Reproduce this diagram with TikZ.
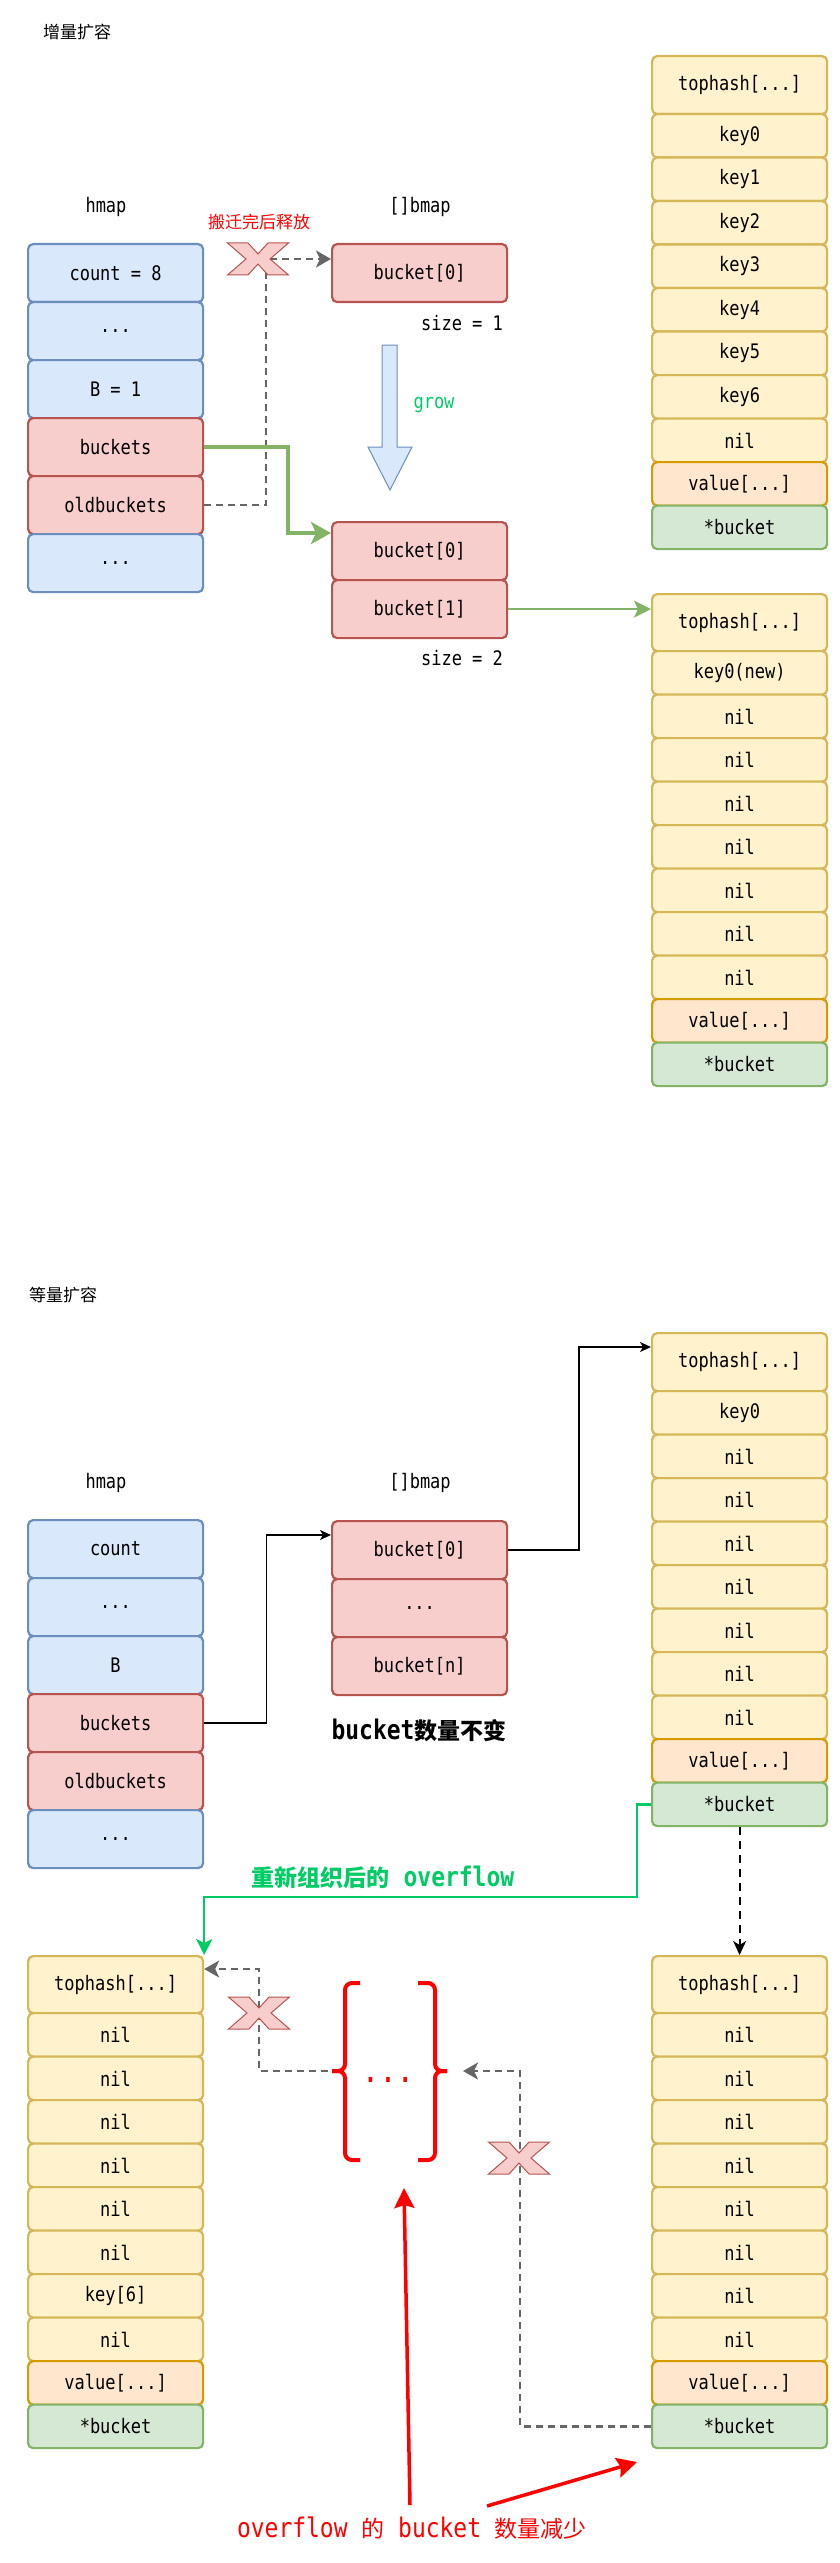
\documentclass[tikz,border=0pt]{standalone}
\usepackage{fontspec}
\setmonofont{DejaVu Sans Mono}[FakeStretch=0.85]
\newfontfamily\cjk{Noto Sans CJK SC}
\usetikzlibrary{arrows.meta,calc}
\definecolor{bfill}{HTML}{DAE8FC}\definecolor{bdraw}{HTML}{6C8EBF}
\definecolor{rfill}{HTML}{F8CECC}\definecolor{rdraw}{HTML}{B85450}
\definecolor{yfill}{HTML}{FFF2CC}\definecolor{ydraw}{HTML}{D6B656}
\definecolor{ofill}{HTML}{FFE6CC}\definecolor{odraw}{HTML}{D79B00}
\definecolor{gfill}{HTML}{D5E8D4}\definecolor{gdraw}{HTML}{82B366}
\definecolor{brightgreen}{HTML}{00CC66}
\definecolor{dgray}{HTML}{666666}
\newcommand\bigcjk[1]{{\cjk\fontsize{23}{26}\selectfont #1}}
\begin{document}
\begin{tikzpicture}[x=1pt,y=-1pt,
  cell/.style={draw, line width=2.2pt, rounded corners=5pt, minimum width=175pt, anchor=north west,
    inner sep=0pt, font=\ttfamily\fontsize{20}{22}\selectfont},
  tall/.style={minimum height=58pt},
  tallb/.style={minimum height=57pt},
  short/.style={minimum height=43.5pt},
  bcell/.style={cell, draw=bdraw, fill=bfill},
  rcell/.style={cell, draw=rdraw, fill=rfill},
  ycell/.style={cell, draw=ydraw, fill=yfill},
  ocell/.style={cell, draw=odraw, fill=ofill},
  gcell/.style={cell, draw=gdraw, fill=gfill},
  lbl/.style={inner sep=0pt, font=\ttfamily\fontsize{20}{22}\selectfont},
  cjklbl/.style={inner sep=0pt, font=\cjk\fontsize{17}{20}\selectfont},
  big/.style={inner sep=0pt, font=\ttfamily\bfseries\fontsize{27}{30}\selectfont},
  gthick/.style={draw=gdraw, line width=4pt, -{Stealth[length=20pt,width=22pt,inset=5pt]}},
  gthin/.style={draw=gdraw, line width=2pt, -{Stealth[length=17pt,width=17pt,inset=4pt]}},
  blk/.style={draw=black, line width=1.5pt, -{Stealth[length=11pt,width=10pt,inset=3pt]}},
  gdash/.style={draw=dgray, line width=2.5pt, dash pattern=on 7pt off 5pt, -{Stealth[length=15pt,width=17pt,inset=4pt]}},
  bdash/.style={draw=black, line width=2pt, dash pattern=on 8pt off 6pt, -{Stealth[length=14pt,width=13pt,inset=4pt]}},
  grn/.style={draw=brightgreen, line width=2.5pt, -{Stealth[length=16pt,width=16pt,inset=4pt]}},
  rarr/.style={draw=red, line width=3.5pt, -{Stealth[length=20pt,width=20pt,inset=3pt]}},
  brace/.style={draw=red, line width=4pt, rounded corners=7pt},
  xst/.style={draw=rdraw, fill=rfill, line width=1pt, line join=miter}
]
\fill[white] (0,0) rectangle (839,2563);
\useasboundingbox (0,0) rectangle (839,2563);

% ================= Section 1 =================
\node[cjklbl, anchor=west] (title1) at (43,32) {增量扩容};
\node[lbl] (hmap1) at (106,207) {hmap};
\node[lbl] (bmap1) at (420,207) {[]bmap};
\node[cjklbl, text=red] (free) at (259,222) {搬迁完后释放};

\node[bcell, tall] (h1a) at (27,243) {count = 8};
\node[bcell, tall] (h1b) at (27,301) {...};
\node[bcell, tall] (h1c) at (27,359) {B = 1};
\node[rcell, tall] (h1d) at (27,417) {buckets};
\node[rcell, tall] (h1e) at (27,475) {oldbuckets};
\node[bcell, tall] (h1f) at (27,533) {...};

\node[rcell, tall] (m1a) at (331,243) {bucket[0]};
\node[lbl] (size1) at (462,323) {size = 1};

\draw[draw=bdraw, fill=bfill, line width=1pt] (382,345) -- (397,345) -- (397,447) -- (412,447)
  -- (390,490) -- (368,447) -- (382,447) -- cycle;
\node[lbl, text=brightgreen] (grow) at (434,405) {grow};

\node[rcell, tall] (m2a) at (331,521) {bucket[0]};
\node[rcell, tall] (m2b) at (331,579) {bucket[1]};
\node[lbl] (size2) at (462,658) {size = 2};

% right column A
\node[ycell, tall] (A0) at (651,55) {tophash[...]};
\foreach \t [count=\i] in {key0,key1,key2,key3,key4,key5,key6,nil}
  \node[ycell, short] (A\i) at (651,{113+(\i-1)*43.5}) {\t};
\node[ocell, short] (A9) at (651,{113+8*43.5}) {value[...]};
\node[gcell, short] (A10) at (651,{113+9*43.5}) {*bucket};

% right column B
\node[ycell, tallb] (B0) at (651,593) {tophash[...]};
\foreach \t [count=\i] in {key0(new),nil,nil,nil,nil,nil,nil,nil}
  \node[ycell, short] (B\i) at (651,{650+(\i-1)*43.5}) {\t};
\node[ocell, short] (B9) at (651,{650+8*43.5}) {value[...]};
\node[gcell, short] (B10) at (651,{650+9*43.5}) {*bucket};

% connectors section 1
\coordinate (y1) at (0,259);
\coordinate (y2) at (0,533);
\draw[gdash] (h1e.east) -| (266,259) -- (m1a.west |- y1);
\draw[gthick] (h1d.east) -| (288,533) -- (m2a.west |- y2);
\draw[gthin] (m2b.east) -- (m2b.east -| B0.west);

% X mark 1
\draw[xst, shift={(258,259)}] (-30.5,-16) -- (-10,-16) -- (0,-5) -- (10,-16) -- (30.5,-16) -- (12,0)
  -- (30.5,16) -- (10,16) -- (0,5) -- (-10,16) -- (-30.5,16) -- (-12,0) -- cycle;

% ================= Section 2 =================
\node[cjklbl, anchor=west] (title2) at (29,1295) {等量扩容};
\node[lbl] (hmap2) at (106,1483) {hmap};
\node[lbl] (bmap2) at (420,1483) {[]bmap};

\node[bcell, tall] (h2a) at (27,1519) {count};
\node[bcell, tall] (h2b) at (27,1577) {...};
\node[bcell, tall] (h2c) at (27,1635) {B};
\node[rcell, tall] (h2d) at (27,1693) {buckets};
\node[rcell, tall] (h2e) at (27,1751) {oldbuckets};
\node[bcell, tall] (h2f) at (27,1809) {...};

\node[rcell, tall] (n0) at (331,1520) {bucket[0]};
\node[rcell, tall] (n1) at (331,1578) {...};
\node[rcell, tall] (n2) at (331,1636) {bucket[n]};
\node[big] (same) at (419,1730) {bucket\bigcjk{数量不变}};

% right column C
\node[ycell, tall] (C0) at (651,1332) {tophash[...]};
\foreach \t [count=\i] in {key0,nil,nil,nil,nil,nil,nil,nil}
  \node[ycell, short] (C\i) at (651,{1390+(\i-1)*43.5}) {\t};
\node[ocell, short] (C9) at (651,{1390+8*43.5}) {value[...]};
\node[gcell, short] (C10) at (651,{1390+9*43.5}) {*bucket};

\node[big, text=brightgreen] (reorg) at (383,1877) {\bigcjk{重新组织后的} overflow};

% left column D
\node[ycell, tallb] (D0) at (27,1955) {tophash[...]};
\foreach \t [count=\i] in {nil,nil,nil,nil,nil,nil,key[6],nil}
  \node[ycell, short] (D\i) at (27,{2012+(\i-1)*43.5}) {\t};
\node[ocell, short] (D9) at (27,{2012+8*43.5}) {value[...]};
\node[gcell, short] (D10) at (27,{2012+9*43.5}) {*bucket};

% right column E
\node[ycell, tallb] (E0) at (651,1955) {tophash[...]};
\foreach \t [count=\i] in {nil,nil,nil,nil,nil,nil,nil,nil}
  \node[ycell, short] (E\i) at (651,{2012+(\i-1)*43.5}) {\t};
\node[ocell, short] (E9) at (651,{2012+8*43.5}) {value[...]};
\node[gcell, short] (E10) at (651,{2012+9*43.5}) {*bucket};

% braces and dots
\draw[brace] (360,1983) -- (345,1983) -- (345,2071) -- (332,2071);
\draw[brace] (332,2071) -- (345,2071) -- (345,2160) -- (360,2160);
\draw[brace] (418,1983) -- (435,1983) -- (435,2071) -- (447,2071);
\draw[brace] (447,2071) -- (435,2071) -- (435,2160) -- (418,2160);
\node[inner sep=0pt, font=\ttfamily\fontsize{34}{36}\selectfont, text=red, anchor=base] (dots) at (388,2082) {...};
\coordinate (braceR) at (463,2071);
\coordinate (braceL) at (328,2071);

\node[inner sep=0pt, font=\ttfamily\fontsize{27}{30}\selectfont, text=red] (less) at (412,2528)
  {overflow \bigcjk{的} bucket \bigcjk{数量减少}};

% connectors section 2
\coordinate (y4) at (0,1535);
\coordinate (y5) at (0,1347);
\coordinate (y9) at (0,1969);
\draw[blk] (h2d.east) -| (266.5,1535) -- (n0.west |- y4);
\draw[blk] (n0.east) -| (579,1347) -- (C0.west |- y5);
\draw[grn] (C10.west) -| (637,1897) -| (D0.north east);
\draw[bdash] (C10.south) -- (E0.north);
\draw[gdash] (E10.west) -| (520,2071) -- (braceR);
\draw[gdash] (braceL) -| (259,1969) -- (D0.east |- y9);

\coordinate (ra1s) at (410,2505);
\coordinate (ra1e) at (404,2188);
\coordinate (ra2s) at (487,2506);
\coordinate (ra2e) at (637,2462);
\draw[rarr] (ra1s) -- (ra1e);
\draw[rarr] (ra2s) -- (ra2e);

% X marks 2 and 3
\draw[xst, shift={(259,2013)}] (-30.5,-16) -- (-10,-16) -- (0,-5) -- (10,-16) -- (30.5,-16) -- (12,0)
  -- (30.5,16) -- (10,16) -- (0,5) -- (-10,16) -- (-30.5,16) -- (-12,0) -- cycle;
\draw[xst, shift={(519,2158)}] (-30.5,-16) -- (-10,-16) -- (0,-5) -- (10,-16) -- (30.5,-16) -- (12,0)
  -- (30.5,16) -- (10,16) -- (0,5) -- (-10,16) -- (-30.5,16) -- (-12,0) -- cycle;
\end{tikzpicture}
\end{document}
